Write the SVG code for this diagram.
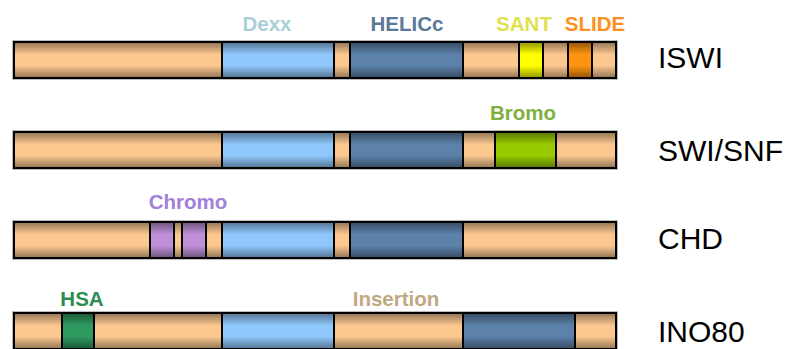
<svg xmlns="http://www.w3.org/2000/svg" width="792" height="349" viewBox="0 0 792 349">
<defs>
<linearGradient id="shade" x1="0" y1="0" x2="0" y2="1">
<stop offset="0" stop-color="#000" stop-opacity="0.42"/>
<stop offset="0.35" stop-color="#000" stop-opacity="0"/>
<stop offset="0.65" stop-color="#000" stop-opacity="0"/>
<stop offset="1" stop-color="#000" stop-opacity="0.42"/>
</linearGradient>
<style>
.tan{fill:#fcc890}
.dexx{fill:#90c8fc}
.hel{fill:#5c82aa}
.sant{fill:#ffff00}
.slide{fill:#ff9410}
.bromo{fill:#98cc00}
.chromo{fill:#c090d8}
.hsa{fill:#2f9a60}
.sep{stroke:#000;stroke-width:2}
.frame{fill:none;stroke:#000;stroke-width:2}
.halo{fill:none;stroke:#bbb;stroke-width:1}
.dl{font-family:"Liberation Sans",Arial,sans-serif;font-weight:bold;font-size:20.5px;text-anchor:middle}
.nm{font-family:"Liberation Sans",Arial,sans-serif;font-size:30px;fill:#000}
</style>
</defs>
<rect width="792" height="349" fill="#fff"/>

<g id="ISWI">
<rect class="tan" x="14" y="42" width="208" height="36"/>
<rect class="dexx" x="222" y="42" width="112" height="36"/>
<rect class="tan" x="334" y="42" width="16" height="36"/>
<rect class="hel" x="350" y="42" width="113" height="36"/>
<rect class="tan" x="463" y="42" width="56" height="36"/>
<rect class="sant" x="519" y="42" width="24" height="36"/>
<rect class="tan" x="543" y="42" width="25" height="36"/>
<rect class="slide" x="568" y="42" width="24" height="36"/>
<rect class="tan" x="592" y="42" width="24" height="36"/>
<rect fill="url(#shade)" x="14" y="42" width="602" height="36"/>
<path class="sep" d="M222 42V78M334 42V78M350 42V78M463 42V78M519 42V78M543 42V78M568 42V78M592 42V78"/>
<rect class="halo" x="12.5" y="40.5" width="605" height="39"/>
<rect class="frame" x="14" y="42" width="602" height="36"/>
<text class="dl" x="267" y="31" fill="#a8d0d8">Dexx</text>
<text class="dl" x="407" y="31" fill="#5a7898">HELICc</text>
<text class="dl" x="524" y="31" fill="#e0e050">SANT</text>
<text class="dl" x="595" y="31" fill="#ff9020">SLIDE</text>
<text class="nm" x="658" y="68">ISWI</text>
</g>

<g id="SWI-SNF">
<rect class="tan" x="14" y="132" width="208" height="36"/>
<rect class="dexx" x="222" y="132" width="112" height="36"/>
<rect class="tan" x="334" y="132" width="16" height="36"/>
<rect class="hel" x="350" y="132" width="113" height="36"/>
<rect class="tan" x="463" y="132" width="32" height="36"/>
<rect class="bromo" x="495" y="132" width="61" height="36"/>
<rect class="tan" x="556" y="132" width="60" height="36"/>
<rect fill="url(#shade)" x="14" y="132" width="602" height="36"/>
<path class="sep" d="M222 132V168M334 132V168M350 132V168M463 132V168M495 132V168M556 132V168"/>
<rect class="halo" x="12.5" y="130.5" width="605" height="39"/>
<rect class="frame" x="14" y="132" width="602" height="36"/>
<text class="dl" x="523" y="120" fill="#80b040">Bromo</text>
<text class="nm" x="658" y="161">SWI/SNF</text>
</g>

<g id="CHD">
<rect class="tan" x="14" y="222" width="136" height="36"/>
<rect class="chromo" x="150" y="222" width="24" height="36"/>
<rect class="tan" x="174" y="222" width="8" height="36"/>
<rect class="chromo" x="182" y="222" width="24" height="36"/>
<rect class="tan" x="206" y="222" width="16" height="36"/>
<rect class="dexx" x="222" y="222" width="112" height="36"/>
<rect class="tan" x="334" y="222" width="16" height="36"/>
<rect class="hel" x="350" y="222" width="113" height="36"/>
<rect class="tan" x="463" y="222" width="153" height="36"/>
<rect fill="url(#shade)" x="14" y="222" width="602" height="36"/>
<path class="sep" d="M150 222V258M174 222V258M182 222V258M206 222V258M222 222V258M334 222V258M350 222V258M463 222V258"/>
<rect class="halo" x="12.5" y="220.5" width="605" height="39"/>
<rect class="frame" x="14" y="222" width="602" height="36"/>
<text class="dl" x="188" y="209" fill="#a080d8">Chromo</text>
<text class="nm" x="658" y="249">CHD</text>
</g>

<g id="INO80">
<rect class="tan" x="14" y="313" width="48" height="36"/>
<rect class="hsa" x="62" y="313" width="32" height="36"/>
<rect class="tan" x="94" y="313" width="128" height="36"/>
<rect class="dexx" x="222" y="313" width="112" height="36"/>
<rect class="tan" x="334" y="313" width="129" height="36"/>
<rect class="hel" x="463" y="313" width="112" height="36"/>
<rect class="tan" x="575" y="313" width="41" height="36"/>
<rect fill="url(#shade)" x="14" y="313" width="602" height="36"/>
<path class="sep" d="M62 313V349M94 313V349M222 313V349M334 313V349M463 313V349M575 313V349"/>
<rect class="halo" x="12.5" y="311.5" width="605" height="39"/>
<rect class="frame" x="14" y="313" width="602" height="36"/>
<text class="dl" x="82" y="306" fill="#2e8b50">HSA</text>
<text class="dl" x="396" y="306" fill="#c0a880">Insertion</text>
<text class="nm" x="658" y="342">INO80</text>
</g>

<g id="connectors"/>
</svg>
